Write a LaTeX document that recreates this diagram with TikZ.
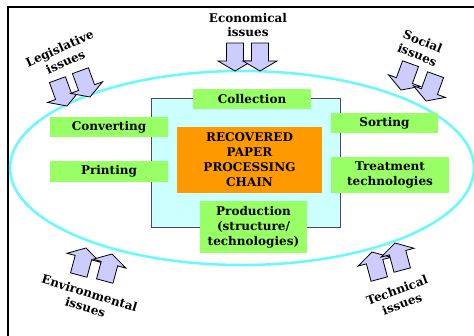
\documentclass[tikz,border=0pt]{standalone}
\usepackage{fontspec}
\setmainfont{DejaVu Serif}
\definecolor{stagegreen}{RGB}{153,255,102}
\definecolor{ringcyan}{RGB}{102,250,255}
\definecolor{panelcyan}{RGB}{204,255,255}
\definecolor{chainorange}{RGB}{255,153,0}
\definecolor{arrowlilac}{RGB}{204,204,255}
% block arrow pointing down, tip at #1, turned by #2
\newcommand{\pushArrow}[2]{%
  \draw[issue arrow, shift={#1}, rotate=#2] (0,0) -- (-17,-10) -- (-8.5,-10) -- (-8.5,-28)
    -- (8.5,-28) -- (8.5,-10) -- (17,-10) -- cycle;}
\begin{document}
\begin{tikzpicture}[x=1pt, y=-1pt,
    stage/.style={fill=stagegreen, inner sep=0pt, align=center, font=\bfseries\fontsize{12}{15}\selectfont},
    issue/.style={align=center, inner sep=0pt, font=\bfseries\fontsize{12}{14.5}\selectfont},
    issue arrow/.style={fill=arrowlilac, draw=black, line width=0.8pt, line join=miter}]
  \useasboundingbox (0,0) rectangle (474,335);
  \clip (0,0) rectangle (474,335);
  % Draw the frame and the ring of issues.
  \draw[line width=2.5pt] (8,345) -- (8,7) -- (480,7);
  \draw[ringcyan, line width=2.5pt] (242,168) ellipse [x radius=232, y radius=97];
  % Draw the panel holding the chain.
  \node[draw=black!70, fill=panelcyan, line width=1pt, minimum width=189pt, minimum height=129pt, inner sep=0pt] (panel) at (245.5,162.5) {};
  \node[fill=chainorange, minimum width=145pt, minimum height=66pt, inner sep=0pt, align=center,
        font=\bfseries\fontsize{12}{15}\selectfont] (chain) at (249.5,160) {RECOVERED\\PAPER\\PROCESSING\\CHAIN};
  % Draw the stages round the chain.
  \node[stage, minimum width=118pt, minimum height=20pt] (collection) at (252,99) {Collection};
  \node[stage, minimum width=118pt, minimum height=20pt] (converting) at (109,127) {Converting};
  \node[stage, minimum width=118pt, minimum height=21pt] (printing) at (109,171.5) {Printing};
  \node[stage, minimum width=107pt, minimum height=20pt] (sorting) at (384.5,123) {Sorting};
  \node[stage, minimum width=118pt, minimum height=36pt] (treatment) at (390,175) {Treatment\\technologies};
  \node[stage, minimum width=107pt, minimum height=52pt] (production) at (253.5,227) {Production\\(structure/\\technologies)};
  % Draw the issues and their arrows.
  \node[issue] (economical) at (248,25) {Economical\\issues};
  \pushArrow{(235,71)}{0}
  \pushArrow{(260,71)}{0}
  \node[issue, rotate=24] (legislative) at (62.5,55) {Legislative\\issues};
  \pushArrow{(67,106)}{20}
  \pushArrow{(90,97)}{20}
  \node[issue, rotate=-22] (social) at (420,48) {Social\\issues};
  \pushArrow{(401,90)}{-20}
  \pushArrow{(426,101)}{-20}
  \node[issue, rotate=-17] (environmental) at (87.5,300) {Environmental\\issues};
  \pushArrow{(86,248)}{165}
  \pushArrow{(112,254)}{165}
  \node[issue, rotate=20] (technical) at (399.5,297) {Technical\\issues};
  \pushArrow{(372,252)}{195}
  \pushArrow{(395,243)}{195}
\end{tikzpicture}
\end{document}
